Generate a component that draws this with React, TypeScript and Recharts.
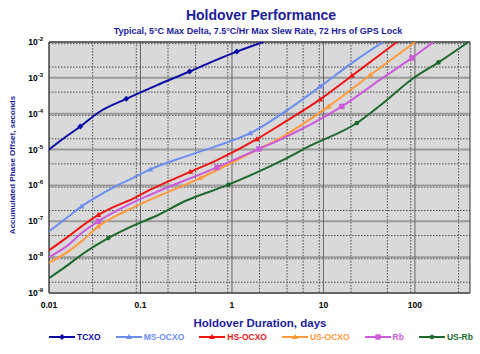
import { CartesianGrid, Line, LineChart, XAxis, YAxis } from 'recharts'

const FONT = '"Liberation Sans", Arial, Helvetica, sans-serif'
const NAVY = '#1c1c9c'

// holdover duration (days) and accumulated phase offset (s)
const tcxoDays = [0.01, 0.015, 0.022, 0.035, 0.07, 0.15, 0.344, 0.6, 1.13, 2.2]
const tcxoOffset = [1e-5, 2.2e-5, 4.4e-5, 1.1e-4, 2.6e-4, 6.2e-4, 1.5e-3, 2.8e-3, 5.4e-3, 1e-2]
const tcxoMarks = [2, 4, 6, 8]

const msDays = [0.01, 0.0163, 0.0227, 0.0346, 0.0526, 0.08, 0.128, 0.35, 0.686, 1.58, 3.37, 9.2, 21.3, 45]
const msOffset = [5.2e-8, 1.36e-7, 2.6e-7, 5.1e-7, 9.3e-7, 1.55e-6, 2.8e-6, 7.1e-6, 1.27e-5, 2.86e-5, 9.3e-5, 5.7e-4, 2.8e-3, 1e-2]
const msMarks = [2, 6, 9, 11]

const hsDays = [0.01, 0.0163, 0.0227, 0.0346, 0.0526, 0.08, 0.128, 0.35, 0.686, 1.87, 3.37, 9.2, 20.5, 38.5, 63.5]
const hsOffset = [1.55e-8, 3.8e-8, 7.2e-8, 1.5e-7, 2.6e-7, 4.1e-7, 7.6e-7, 2.4e-6, 5.1e-6, 1.95e-5, 4.9e-5, 2.5e-4, 1.15e-3, 3.8e-3, 1e-2]
const hsMarks = [3, 7, 9, 11, 12]

const usDays = [0.01, 0.0163, 0.0227, 0.0346, 0.0526, 0.08, 0.128, 0.45, 1.87, 3.37, 11.4, 32.5, 100.7]
const usOffset = [6.9e-9, 1.45e-8, 2.75e-8, 7.2e-8, 1.36e-7, 2.3e-7, 4e-7, 1.6e-6, 9.8e-6, 2.1e-5, 1.6e-4, 1.2e-3, 1e-2]
const usMarks = [3, 7, 10, 11]

const rbDays = [0.01, 0.0163, 0.0227, 0.0346, 0.0526, 0.08, 0.128, 0.686, 1.97, 3.37, 15.9, 41.7, 92.7, 160]
const rbOffset = [1e-8, 2.2e-8, 4.7e-8, 1e-7, 1.85e-7, 3.2e-7, 5.5e-7, 3.2e-6, 1.04e-5, 1.9e-5, 1.6e-4, 8.9e-4, 3.6e-3, 1e-2]
const rbMarks = [3, 7, 8, 10, 12]

const usRbDays = [0.01, 0.0163, 0.0227, 0.0445, 0.08, 0.156, 0.296, 0.914, 3.37, 7.1, 23.2, 41.7, 96.6, 181, 385]
const usRbOffset = [2.6e-9, 6.2e-9, 1.17e-8, 3.4e-8, 7.2e-8, 1.5e-7, 3.5e-7, 1.05e-6, 4.7e-6, 1.26e-5, 5.5e-5, 1.7e-4, 9.9e-4, 2.7e-3, 1e-2]
const usRbMarks = [3, 7, 10, 13]

const xTicks = [0.01, 0.1, 1, 10, 100]
const yTicks = [1e-9, 1e-8, 1e-7, 1e-6, 1e-5, 1e-4, 1e-3, 1e-2]
const xDomain = [0.01, 400]
const yDomain = [1e-9, 1e-2]

const pts = (days: number[], vals: number[], marks: number[]) =>
  days.map((d, i) => ({ x: d, y: vals[i], m: marks.includes(i) }))

const series = [
  { name: 'TCXO', color: '#0b0ba6', shape: 'diamond', data: pts(tcxoDays, tcxoOffset, tcxoMarks) },
  { name: 'MS-OCXO', color: '#6b8ef0', shape: 'tri', data: pts(msDays, msOffset, msMarks) },
  { name: 'HS-OCXO', color: '#ee1515', shape: 'tri', data: pts(hsDays, hsOffset, hsMarks) },
  { name: 'US-OCXO', color: '#ff9a3c', shape: 'tri', data: pts(usDays, usOffset, usMarks) },
  { name: 'Rb', color: '#cc5bdc', shape: 'square', data: pts(rbDays, rbOffset, rbMarks) },
  { name: 'US-Rb', color: '#1d6a2c', shape: 'circle', data: pts(usRbDays, usRbOffset, usRbMarks) },
]

// minor grid values 2..9 per decade
const minorX: number[] = []
for (let e = -2; e <= 2; e++) for (let k = 2; k <= 9; k++) if (k * 10 ** e < 400) minorX.push(k * 10 ** e)
const minorY: number[] = []
for (let e = -9; e <= -3; e++) for (let k = 2; k <= 9; k++) minorY.push(k * 10 ** e)

function Marker({ cx, cy, color, shape }: any) {
  if (shape === 'square') return <rect x={cx - 2.7} y={cy - 2.7} width={5.4} height={5.4} fill={color} />
  if (shape === 'circle') return <circle cx={cx} cy={cy} r={2.3} fill={color} />
  if (shape === 'diamond') return <polygon points={`${cx},${cy - 3} ${cx + 3},${cy} ${cx},${cy + 3} ${cx - 3},${cy}`} fill={color} />
  return <polygon points={`${cx},${cy - 3} ${cx + 3},${cy + 2} ${cx - 3},${cy + 2}`} fill={color} />
}

const YTick = ({ x, y, payload }: any) => {
  const exp = Math.round(Math.log10(payload.value))
  return (
    <text x={x} y={y} dy={3} textAnchor='end' fontFamily={FONT} fontWeight='bold' fill='#000'>
      <tspan fontSize={8.5}>10</tspan>
      <tspan fontSize={6} dy={-4}>{exp}</tspan>
    </text>
  )
}

const XTick = ({ x, y, payload }: any) => (
  <text x={x} y={y} dy='0.71em' textAnchor='middle' fontFamily={FONT} fontWeight='bold' fontSize={8.5} fill='#000'>
    {payload.value}
  </text>
)

export default function App() {
  return (
    <div style={{ position: 'relative', width: 480, height: 354, background: '#fff' }}>
      <style>{'body{margin:0}'}</style>
      <LineChart width={480} height={354} margin={{ top: 42, right: 10, bottom: 41, left: 0 }}>
        <CartesianGrid fill='#d9d9d9' stroke='#4a4a4a' strokeDasharray='1.5 1.5' horizontalValues={minorY} verticalValues={minorX} />
        <CartesianGrid stroke='#9a9a9a' strokeWidth={2} horizontalValues={yTicks} vertical={false} />
        <CartesianGrid stroke='#666' horizontal={false} verticalValues={xTicks} />
        <CartesianGrid stroke='#333' horizontalValues={yDomain} verticalValues={xDomain} />
        <XAxis
          dataKey='x'
          type='number'
          scale='log'
          domain={xDomain}
          ticks={xTicks}
          allowDataOverflow
          height={20}
          tickSize={0}
          tickMargin={9}
          axisLine={false}
          tick={<XTick />}
        />
        <YAxis
          type='number'
          scale='log'
          domain={yDomain}
          ticks={yTicks}
          allowDataOverflow
          width={49}
          tickSize={0}
          tickMargin={6}
          axisLine={false}
          tick={<YTick />}
        />
        {series.map((s) => (
          <Line
            key={s.name}
            data={s.data}
            dataKey='y'
            type='monotone'
            stroke={s.color}
            strokeWidth={2}
            isAnimationActive={false}
            dot={(p: any) =>
              p.payload.m ? (
                <Marker key={`${s.name}-${p.index}`} cx={p.cx} cy={p.cy} color={s.color} shape={s.shape} />
              ) : (
                <g key={`${s.name}-${p.index}`} />
              )
            }
            activeDot={false}
          />
        ))}
      </LineChart>
      <svg width={480} height={354} style={{ position: 'absolute', left: 0, top: 0, pointerEvents: 'none' }}>
        <text x={261} y={20} textAnchor='middle' fontFamily={FONT} fontWeight='bold' fontSize={14} fill={NAVY}>
          Holdover Performance
        </text>
        <text x={258} y={33.5} textAnchor='middle' fontFamily={FONT} fontWeight='bold' fontSize={9} fill={NAVY}>
          Typical, 5°C Max Delta, 7.5°C/Hr Max Slew Rate, 72 Hrs of GPS Lock
        </text>
        <text
          transform='translate(15,165) rotate(-90)'
          textAnchor='middle'
          fontFamily={FONT}
          fontWeight='bold'
          fontSize={8}
          fill={NAVY}
        >
          Accumulated Phase Offset, seconds
        </text>
        <text x={260} y={327} textAnchor='middle' fontFamily={FONT} fontWeight='bold' fontSize={11.5} fill={NAVY}>
          Holdover Duration, days
        </text>
      </svg>
      <div
        style={{
          position: 'absolute',
          left: 49,
          top: 332,
          display: 'flex',
          gap: 15,
          fontFamily: FONT,
          fontWeight: 'bold',
          fontSize: 8.5,
          lineHeight: '10px',
        }}
      >
        {series.map((s) => (
          <div key={s.name} style={{ display: 'flex', alignItems: 'center' }}>
            <svg width={26} height={10}>
              <line x1={0} y1={5} x2={26} y2={5} stroke={s.color} strokeWidth={2} />
              <Marker cx={13} cy={5} color={s.color} shape={s.shape} />
            </svg>
            <span style={{ color: s.color, marginLeft: 2 }}>{s.name}</span>
          </div>
        ))}
      </div>
    </div>
  )
}
